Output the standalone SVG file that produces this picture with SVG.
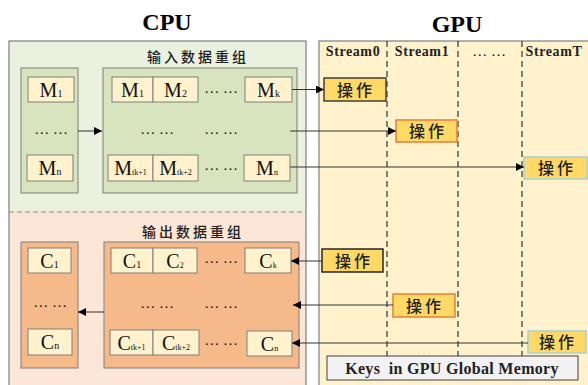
<svg xmlns="http://www.w3.org/2000/svg" width="588" height="385" viewBox="0 0 588 385">
<defs>
<marker id="ah" viewBox="0 0 10 10" refX="10" refY="5" markerWidth="8" markerHeight="8" markerUnits="userSpaceOnUse" orient="auto">
<path d="M0,0 L10,5 L0,10 z" fill="#000"/>
</marker>
<style>
.title{font-family:"Liberation Serif",serif;font-weight:bold;font-size:24px;fill:#000}
.cn{font-family:"Noto Sans CJK SC",sans-serif;font-size:14px;letter-spacing:3px;fill:#222;font-weight:500}
.op{font-family:"Noto Sans CJK SC",sans-serif;font-size:16px;letter-spacing:3px;fill:#222;font-weight:500}
.st{font-family:"Liberation Serif",serif;font-weight:bold;font-size:14px;letter-spacing:0.6px;fill:#222}
.m{font-family:"Liberation Serif",serif;font-size:20px;fill:#111}
.sub{font-size:10px}
.sub2{font-size:8px}
.dots{font-family:"Liberation Serif",serif;font-size:15px;fill:#111}
.cell{fill:#fff2cc;stroke:#7f7f7f;stroke-width:1}
.gin{fill:#d7e4bd;stroke:#7f7f7f;stroke-width:1}
.oin{fill:#f6b98a;stroke:#7f7f7f;stroke-width:1}
.opb{fill:#ffd966;stroke-width:1.5}
.ln{stroke:#333;stroke-width:1;fill:none}
.dash{stroke:#333;stroke-width:1.2;stroke-dasharray:6,4;fill:none}
</style>
</defs>
<rect width="588" height="385" fill="#fff"/>

<g id="cpu">
<rect x="9" y="41" width="297" height="171" fill="#ebf1df"/>
<rect x="9" y="212" width="297" height="180" fill="#fce6d8"/>
<rect x="9" y="41" width="297" height="360" fill="none" stroke="#7f7f7f" stroke-width="1.2"/>
<line x1="9" y1="212" x2="306" y2="212" stroke="#8a8a8a" stroke-width="1" stroke-dasharray="5,3"/>
<text class="title" x="167" y="30" text-anchor="middle">CPU</text>
</g>

<g id="gpu">
<rect x="319" y="41" width="280" height="360" fill="#fff2cc" stroke="#7f7f7f" stroke-width="1.2"/>
<text class="title" x="457" y="32" text-anchor="middle">GPU</text>
<text class="st" x="353" y="56" text-anchor="middle">Stream0</text>
<text class="st" x="422" y="56" text-anchor="middle">Stream1</text>
<text class="dots" x="489" y="56" text-anchor="middle">… …</text>
<text class="st" x="554" y="56" text-anchor="middle">StreamT</text>
<line class="dash" x1="387" y1="41" x2="387" y2="356"/>
<line class="dash" x1="458" y1="41" x2="458" y2="356"/>
<line class="dash" x1="522" y1="41" x2="522" y2="356"/>
</g>

<g id="input-reorg">
<text class="cn" x="198" y="62" text-anchor="middle">输入数据重组</text>
<rect class="gin" x="21" y="68" width="57" height="125"/>
<rect class="cell" x="28" y="77" width="46" height="25"/>
<text class="m" x="51" y="96.5" text-anchor="middle">M<tspan class="sub">1</tspan></text>
<text class="dots" x="51" y="134" text-anchor="middle">… …</text>
<rect class="cell" x="27" y="155" width="46" height="26"/>
<text class="m" x="50" y="175" text-anchor="middle">M<tspan class="sub">n</tspan></text>

<rect class="gin" x="103" y="68" width="194" height="125"/>
<rect class="cell" x="112" y="77" width="41" height="25"/>
<text class="m" x="132.5" y="96.5" text-anchor="middle">M<tspan class="sub">1</tspan></text>
<rect class="cell" x="153" y="77" width="45" height="25"/>
<text class="m" x="175.5" y="96.5" text-anchor="middle">M<tspan class="sub">2</tspan></text>
<text class="dots" x="221" y="93" text-anchor="middle">… …</text>
<rect class="cell" x="245" y="77" width="47" height="25"/>
<text class="m" x="268.5" y="96.5" text-anchor="middle">M<tspan class="sub">k</tspan></text>
<text class="dots" x="157" y="134" text-anchor="middle">… …</text>
<text class="dots" x="221" y="134" text-anchor="middle">… …</text>
<rect class="cell" x="108" y="155" width="45" height="26"/>
<text class="m" x="130.5" y="175" text-anchor="middle">M<tspan class="sub2">tk+1</tspan></text>
<rect class="cell" x="153" y="155" width="45" height="26"/>
<text class="m" x="175.5" y="175" text-anchor="middle">M<tspan class="sub2">tk+2</tspan></text>
<text class="dots" x="221" y="170" text-anchor="middle">… …</text>
<rect class="cell" x="244" y="155" width="46" height="26"/>
<text class="m" x="267" y="175" text-anchor="middle">M<tspan class="sub2">n</tspan></text>
</g>

<g id="output-reorg">
<text class="cn" x="193" y="237" text-anchor="middle">输出数据重组</text>
<rect class="oin" x="21" y="242" width="57" height="126"/>
<rect class="cell" x="28" y="248" width="43" height="25"/>
<text class="m" x="49.5" y="267.5" text-anchor="middle">C<tspan class="sub">1</tspan></text>
<text class="dots" x="50" y="307" text-anchor="middle">… …</text>
<rect class="cell" x="28" y="329" width="44" height="26"/>
<text class="m" x="50" y="349" text-anchor="middle">C<tspan class="sub">n</tspan></text>

<rect class="oin" x="104" y="242" width="195" height="126"/>
<rect class="cell" x="111" y="248" width="42" height="25"/>
<text class="m" x="132" y="267.5" text-anchor="middle">C<tspan class="sub">1</tspan></text>
<rect class="cell" x="153" y="248" width="44" height="25"/>
<text class="m" x="175" y="267.5" text-anchor="middle">C<tspan class="sub2">2</tspan></text>
<text class="dots" x="221" y="263" text-anchor="middle">… …</text>
<rect class="cell" x="245" y="248" width="46" height="25"/>
<text class="m" x="268" y="267.5" text-anchor="middle">C<tspan class="sub2">k</tspan></text>
<text class="dots" x="157" y="308" text-anchor="middle">… …</text>
<text class="dots" x="221" y="308" text-anchor="middle">… …</text>
<rect class="cell" x="110" y="330" width="43" height="25"/>
<text class="m" x="131.5" y="349.5" text-anchor="middle">C<tspan class="sub2">tk+1</tspan></text>
<rect class="cell" x="153" y="330" width="46" height="25"/>
<text class="m" x="176" y="349.5" text-anchor="middle">C<tspan class="sub2">tk+2</tspan></text>
<text class="dots" x="221" y="345" text-anchor="middle">… …</text>
<rect class="cell" x="247" y="331" width="45" height="25"/>
<text class="m" x="269.5" y="350.5" text-anchor="middle">C<tspan class="sub2">n</tspan></text>
</g>

<g id="op1"><rect class="opb" x="324" y="78" width="62" height="23" stroke="#404040"/><text class="op" x="356" y="95.5" text-anchor="middle">操作</text></g>
<g id="op2"><rect class="opb" x="396" y="120" width="61" height="22" stroke="#ed7d31"/><text class="op" x="428" y="137" text-anchor="middle">操作</text></g>
<g id="op3"><rect class="opb" x="524" y="157" width="63" height="22" stroke="#a8d0d6"/><text class="op" x="557" y="174" text-anchor="middle">操作</text></g>
<g id="op4"><rect class="opb" x="322" y="249" width="61" height="23" stroke="#262626"/><text class="op" x="354" y="266.5" text-anchor="middle">操作</text></g>
<g id="op5"><rect class="opb" x="393" y="294" width="62" height="23" stroke="#ed7d31"/><text class="op" x="425" y="311.5" text-anchor="middle">操作</text></g>
<g id="op6"><rect class="opb" x="528" y="331" width="58" height="22" stroke="#a8d0d6"/><text class="op" x="558" y="348" text-anchor="middle">操作</text></g>

<g id="keys">
<rect x="327" y="356" width="251" height="24" fill="#f2f2f2" stroke="#404040" stroke-width="1"/>
<text class="st" x="452" y="373.5" text-anchor="middle" style="font-size:16px;letter-spacing:0.3px;white-space:pre">Keys  in GPU Global Memory</text>
</g>

<g id="connectors">
<line class="ln" x1="78" y1="131" x2="102" y2="131" marker-end="url(#ah)"/>
<line class="ln" x1="104" y1="312" x2="78" y2="312" marker-end="url(#ah)"/>
<line class="ln" x1="292" y1="89.5" x2="324" y2="89.5" marker-end="url(#ah)"/>
<line class="ln" x1="290" y1="131" x2="396" y2="131" marker-end="url(#ah)"/>
<line class="ln" x1="290" y1="167" x2="524" y2="167" marker-end="url(#ah)"/>
<line class="ln" x1="322" y1="261" x2="291" y2="261" marker-end="url(#ah)"/>
<line class="ln" x1="393" y1="305" x2="293" y2="305" marker-end="url(#ah)"/>
<line class="ln" x1="528" y1="343" x2="292" y2="343" marker-end="url(#ah)"/>
</g>
</svg>
